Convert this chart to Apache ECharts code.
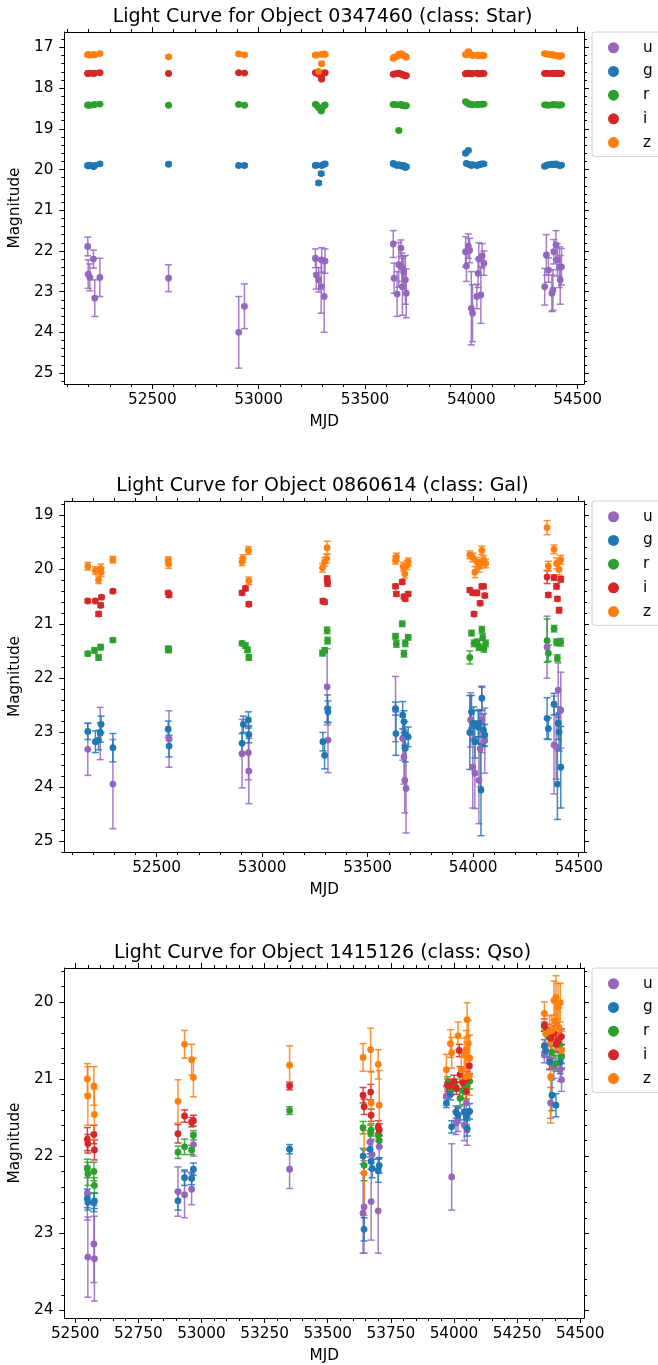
<!DOCTYPE html>
<html>
<head>
<meta charset="utf-8">
<script src="https://cdn.jsdelivr.net/npm/echarts@6/dist/echarts.min.js"></script>
<style>
html,body{margin:0;padding:0;background:#fff;}
#chart{width:658px;height:1365px;}
</style>
</head>
<body>
<div id="chart"></div>
<script>
// ---------- DATA: [MJD, magnitude, error] ----------
const bands = ['u', 'g', 'r', 'i', 'z'];
const titles = [
  'Light Curve for Object 0347460 (class: Star)',
  'Light Curve for Object 0860614 (class: Gal)',
  'Light Curve for Object 1415126 (class: Qso)'
];
const xLabelText = 'MJD';
const yLabelText = 'Magnitude';

// Panel 1 (Star)
const p1_u = [[52196,21.89,0.23],[52198,22.57,0.35],[52206,22.65,0.33],[52223,22.20,0.22],[52229,23.16,0.45],[52253,22.65,0.47],
  [52576,22.67,0.33],[52906,24.00,0.88],[52933,23.36,0.55],
  [53267,22.18,0.23],[53271,22.59,0.35],[53282,22.71,0.30],[53294,22.88,0.65],[53296,22.22,0.30],[53308,23.12,0.88],[53312,22.25,0.30],
  [53633,21.83,0.33],[53637,22.67,0.37],[53651,23.06,0.55],[53659,22.34,0.55],[53669,21.93,0.20],[53673,22.40,0.35],[53676,22.88,0.70],[53682,22.53,0.40],[53690,22.71,0.60],[53694,23.04,0.60],
  [53973,22.02,0.37],[53977,22.37,0.38],[53986,21.88,0.30],[53992,21.99,0.30],[54000,23.41,0.90],[54006,23.53,0.70],[54026,23.12,0.30],[54032,22.55,0.35],[54035,22.20,0.40],[54045,23.08,0.70],[54051,22.12,0.30],[54059,22.30,0.30],
  [54345,22.88,0.45],[54353,22.10,0.50],[54363,22.47,0.30],[54379,23.04,0.45],[54384,22.96,0.50],[54388,22.02,0.30],[54398,21.85,0.35],[54404,22.22,0.40],[54414,22.40,0.50],[54418,22.71,0.60],[54424,22.39,0.45]];
const p1_g = [[52196,19.90,0.03],[52198,19.91,0.03],[52206,19.89,0.03],[52223,19.93,0.03],[52229,19.90,0.03],[52253,19.86,0.03],
  [52576,19.87,0.03],[52906,19.90,0.03],[52933,19.90,0.03],
  [53267,19.90,0.03],[53271,19.89,0.03],[53282,20.33,0.04],[53294,20.10,0.04],[53296,19.90,0.03],[53308,19.87,0.03],[53312,19.86,0.03],
  [53633,19.85,0.03],[53637,19.87,0.03],[53651,19.90,0.03],[53659,19.88,0.03],[53669,19.90,0.03],[53673,19.91,0.03],[53676,19.92,0.03],[53682,19.90,0.03],[53690,19.95,0.03],[53694,19.93,0.03],
  [53973,19.60,0.03],[53977,19.85,0.03],[53986,19.53,0.03],[53992,19.88,0.03],[54000,19.90,0.03],[54006,19.88,0.03],[54026,19.90,0.03],[54032,19.89,0.03],[54035,19.88,0.03],[54045,19.87,0.03],[54051,19.86,0.03],[54059,19.86,0.03],
  [54345,19.92,0.03],[54353,19.90,0.03],[54363,19.88,0.03],[54379,19.87,0.03],[54384,19.88,0.03],[54388,19.87,0.03],[54398,19.86,0.03],[54404,19.88,0.03],[54414,19.90,0.03],[54418,19.90,0.03],[54424,19.89,0.03]];
const p1_r = [[52196,18.42,0.02],[52198,18.41,0.02],[52206,18.42,0.02],[52223,18.41,0.02],[52229,18.40,0.02],[52253,18.39,0.02],
  [52576,18.42,0.02],[52906,18.40,0.02],[52933,18.42,0.02],
  [53267,18.40,0.02],[53271,18.41,0.02],[53282,18.48,0.02],[53294,18.56,0.03],[53296,18.52,0.02],[53308,18.43,0.02],[53312,18.41,0.02],
  [53633,18.40,0.02],[53637,18.40,0.02],[53651,18.41,0.02],[53659,19.04,0.03],[53669,18.40,0.02],[53673,18.42,0.02],[53676,18.41,0.02],[53682,18.43,0.02],[53690,18.44,0.02],[53694,18.43,0.02],
  [53973,18.33,0.02],[53977,18.35,0.02],[53986,18.38,0.02],[53992,18.40,0.02],[54000,18.39,0.02],[54006,18.41,0.02],[54026,18.40,0.02],[54032,18.41,0.02],[54035,18.40,0.02],[54045,18.40,0.02],[54051,18.39,0.02],[54059,18.39,0.02],
  [54345,18.41,0.02],[54353,18.41,0.02],[54363,18.42,0.02],[54379,18.41,0.02],[54384,18.41,0.02],[54388,18.40,0.02],[54398,18.41,0.02],[54404,18.41,0.02],[54414,18.42,0.02],[54418,18.41,0.02],[54424,18.41,0.02]];
const p1_i = [[52196,17.64,0.02],[52198,17.64,0.02],[52206,17.63,0.02],[52223,17.64,0.02],[52229,17.63,0.02],[52253,17.62,0.02],
  [52576,17.64,0.02],[52906,17.62,0.02],[52933,17.63,0.02],
  [53267,17.62,0.02],[53271,17.63,0.02],[53282,17.66,0.02],[53294,17.70,0.02],[53296,17.78,0.02],[53308,17.63,0.02],[53312,17.62,0.02],
  [53633,17.66,0.02],[53637,17.65,0.02],[53651,17.64,0.02],[53659,17.63,0.02],[53669,17.65,0.02],[53673,17.66,0.02],[53676,17.67,0.02],[53682,17.68,0.02],[53690,17.70,0.02],[53694,17.69,0.02],
  [53973,17.65,0.02],[53977,17.64,0.02],[53986,17.63,0.02],[53992,17.64,0.02],[54000,17.65,0.02],[54006,17.64,0.02],[54026,17.63,0.02],[54032,17.64,0.02],[54035,17.65,0.02],[54045,17.64,0.02],[54051,17.63,0.02],[54059,17.64,0.02],
  [54345,17.64,0.02],[54353,17.63,0.02],[54363,17.64,0.02],[54379,17.64,0.02],[54384,17.63,0.02],[54388,17.64,0.02],[54398,17.64,0.02],[54404,17.63,0.02],[54414,17.64,0.02],[54418,17.64,0.02],[54424,17.64,0.02]];
const p1_z = [[52196,17.18,0.03],[52198,17.17,0.03],[52206,17.19,0.03],[52223,17.17,0.03],[52229,17.18,0.03],[52253,17.15,0.03],
  [52576,17.23,0.03],[52906,17.16,0.03],[52933,17.18,0.03],
  [53267,17.19,0.03],[53271,17.18,0.03],[53282,17.59,0.03],[53294,17.17,0.03],[53296,17.40,0.03],[53308,17.16,0.03],[53312,17.17,0.03],
  [53633,17.27,0.03],[53637,17.24,0.03],[53651,17.22,0.03],[53659,17.17,0.03],[53669,17.15,0.03],[53673,17.17,0.03],[53676,17.19,0.03],[53682,17.20,0.03],[53690,17.22,0.03],[53694,17.24,0.03],
  [53973,17.17,0.03],[53977,17.18,0.03],[53986,17.10,0.03],[53992,17.15,0.03],[54000,17.18,0.03],[54006,17.20,0.03],[54026,17.19,0.03],[54032,17.20,0.03],[54035,17.19,0.03],[54045,17.20,0.03],[54051,17.19,0.03],[54059,17.20,0.03],
  [54345,17.15,0.03],[54353,17.16,0.03],[54363,17.17,0.03],[54379,17.17,0.03],[54384,17.18,0.03],[54388,17.19,0.03],[54398,17.20,0.03],[54404,17.20,0.03],[54414,17.22,0.03],[54418,17.21,0.03],[54424,17.20,0.03]];

// Panel 2 (Gal)
const p2_u = [[52174,23.31,0.48],[52233,23.02,0.48],[52293,23.95,0.82],[52559,23.12,0.52],
  [52905,23.39,0.63],[52935,23.37,0.50],[52937,23.71,0.60],
  [53308,22.16,0.70],[53312,23.14,0.60],
  [53632,22.57,0.60],[53666,23.11,0.40],[53672,23.45,0.50],[53676,23.88,0.60],[53682,24.03,0.82],
  [53988,22.77,0.50],[53998,23.64,0.75],[54008,23.75,0.65],[54027,23.88,0.80],[54033,23.30,0.70],[54041,22.77,0.60],[54055,23.15,0.60],
  [54350,21.43,0.57],[54383,23.23,0.90],[54393,23.26,0.60],[54403,22.22,0.50],[54415,22.59,0.70]];
const p2_g = [[52174,22.98,0.15],[52210,23.17,0.20],[52225,23.14,0.18],[52233,23.00,0.18],[52237,22.85,0.15],[52293,23.28,0.26],
  [52555,22.94,0.15],[52559,23.25,0.20],
  [52905,23.20,0.18],[52911,22.85,0.15],[52935,22.77,0.15],[52937,23.04,0.15],
  [53288,23.17,0.17],[53296,23.42,0.25],[53310,22.56,0.25],[53312,22.62,0.20],
  [53632,22.56,0.12],[53634,23.02,0.40],[53666,22.68,0.25],[53672,22.80,0.20],[53676,23.02,0.22],[53678,23.29,0.25],[53692,23.08,0.18],
  [53984,23.00,0.68],[53992,22.62,0.30],[54002,22.83,0.30],[54008,23.17,0.30],[54024,22.90,0.30],[54027,22.83,0.25],[54037,24.06,0.84],[54041,22.37,0.22],[54049,22.96,0.30],[54055,23.05,0.20],
  [54350,22.74,0.38],[54356,22.93,0.20],[54383,22.48,0.20],[54399,23.95,0.65],[54403,22.83,0.30],[54407,22.99,0.35],[54415,23.64,0.75]];
const p2_r = [[52174,21.55,0.04],[52206,21.49,0.05],[52225,21.62,0.05],[52235,21.43,0.05],[52293,21.30,0.04],
  [52555,21.46,0.05],[52557,21.48,0.05],
  [52905,21.36,0.04],[52921,21.40,0.05],[52931,21.48,0.05],[52937,21.62,0.05],
  [53286,21.54,0.05],[53296,21.49,0.05],[53308,21.12,0.06],[53310,21.31,0.06],
  [53632,21.23,0.05],[53636,21.37,0.06],[53664,21.00,0.05],[53672,21.55,0.06],[53678,21.36,0.06],[53692,21.25,0.05],
  [53984,21.62,0.12],[53992,21.17,0.05],[54004,21.36,0.06],[54018,21.34,0.06],[54027,21.43,0.06],[54041,21.11,0.06],[54045,21.25,0.06],[54051,21.46,0.06],[54059,21.36,0.06],
  [54350,21.31,0.40],[54356,21.54,0.15],[54383,21.09,0.06],[54395,21.34,0.06],[54399,21.63,0.06],[54415,21.34,0.07]];
const p2_i = [[52174,20.58,0.03],[52210,20.58,0.03],[52225,20.82,0.04],[52235,20.66,0.04],[52239,20.51,0.03],[52293,20.40,0.03],
  [52555,20.43,0.03],[52559,20.47,0.04],
  [52905,20.43,0.04],[52921,20.35,0.04],[52937,20.64,0.04],
  [53288,20.58,0.04],[53296,20.60,0.04],[53308,20.17,0.05],[53310,20.26,0.05],
  [53632,20.31,0.04],[53636,20.45,0.04],[53664,20.23,0.04],[53672,20.50,0.04],[53678,20.54,0.04],[53692,20.45,0.04],
  [53984,20.38,0.04],[53998,20.43,0.04],[54004,20.82,0.04],[54018,20.43,0.05],[54033,20.62,0.04],[54041,20.31,0.04],[54049,20.31,0.04],[54055,20.48,0.04],
  [54350,20.14,0.12],[54356,20.47,0.04],[54383,20.15,0.05],[54395,20.31,0.05],[54399,20.54,0.04],[54407,20.75,0.05],[54415,20.18,0.05]];
const p2_z = [[52174,19.94,0.07],[52210,20.02,0.07],[52225,20.19,0.07],[52235,19.98,0.08],[52237,20.05,0.08],[52293,19.82,0.06],
  [52555,19.83,0.06],[52557,19.90,0.08],
  [52905,19.86,0.07],[52909,19.80,0.07],[52935,19.65,0.07],[52937,20.21,0.07],
  [53286,19.97,0.08],[53296,19.86,0.08],[53306,19.80,0.08],[53308,19.60,0.12],
  [53632,19.83,0.07],[53636,19.77,0.07],[53668,19.95,0.08],[53676,20.08,0.08],[53688,19.92,0.08],[53692,19.86,0.07],
  [53984,19.73,0.07],[53998,19.78,0.08],[54008,20.05,0.10],[54018,19.86,0.08],[54027,19.95,0.10],[54033,19.90,0.08],[54041,19.65,0.08],[54049,19.83,0.08],[54059,19.89,0.08],
  [54350,19.23,0.13],[54356,19.94,0.09],[54383,19.63,0.08],[54395,19.89,0.10],[54407,20.00,0.10],[54415,19.82,0.08]];

// Panel 3 (Qso)
const p3_u = [[52548,22.48,0.35],[52550,23.31,0.52],[52574,23.14,0.50],[52576,23.33,0.55],
  [52907,22.46,0.32],[52933,22.50,0.30],[52961,22.43,0.20],[52968,21.85,0.15],
  [53349,22.17,0.25],
  [53640,22.74,0.52],[53644,22.66,0.60],[53668,21.82,0.15],[53672,22.59,0.50],[53676,21.98,0.20],[53700,22.71,0.55],[53704,21.88,0.15],
  [53970,21.22,0.12],[53991,22.27,0.43],[54008,21.57,0.15],[54016,21.53,0.15],[54041,21.60,0.20],[54049,21.31,0.15],[54052,21.66,0.20],
  [54358,20.69,0.10],[54379,20.75,0.12],[54383,21.31,0.20],[54396,20.84,0.15],[54421,20.88,0.15],[54426,21.01,0.15]];
const p3_g = [[52548,22.55,0.12],[52550,22.60,0.10],[52574,22.60,0.12],[52576,22.58,0.10],
  [52907,22.58,0.12],[52933,22.28,0.10],[52961,22.29,0.08],[52968,22.17,0.08],
  [53349,21.91,0.06],
  [53640,22.00,0.10],[53644,22.95,0.15],[53668,21.91,0.10],[53672,22.07,0.10],[53676,22.16,0.12],[53700,22.19,0.15],[53704,22.12,0.10],
  [53970,21.31,0.06],[53986,21.20,0.07],[53991,21.62,0.08],[54008,21.43,0.08],[54016,21.47,0.10],[54041,21.43,0.10],[54049,21.49,0.10],[54052,21.64,0.10],[54062,21.42,0.10],
  [54358,20.57,0.08],[54363,20.63,0.08],[54379,20.78,0.10],[54388,21.21,0.20],[54404,21.34,0.15],[54421,20.78,0.15],[54426,20.71,0.15]];
const p3_r = [[52548,22.16,0.12],[52550,22.23,0.15],[52574,22.20,0.12],[52576,22.38,0.10],
  [52907,21.95,0.08],[52933,21.88,0.10],[52961,21.92,0.06],[52968,21.73,0.06],
  [53349,21.41,0.05],
  [53640,21.63,0.08],[53644,22.12,0.20],[53670,21.70,0.10],[53672,21.66,0.08],[53700,21.73,0.08],[53704,21.80,0.08],
  [53975,21.05,0.08],[53990,21.12,0.08],[54005,21.08,0.08],[54024,21.25,0.10],[54035,21.15,0.10],[54049,21.10,0.10],[54062,21.03,0.10],
  [54358,20.32,0.06],[54375,20.45,0.08],[54388,20.65,0.08],[54404,20.80,0.10],[54418,20.56,0.10],[54426,20.70,0.10]];
const p3_i = [[52548,21.78,0.15],[52550,21.84,0.12],[52574,21.72,0.12],[52576,21.92,0.13],
  [52907,21.71,0.12],[52933,21.48,0.08],[52961,21.56,0.06],[52968,21.54,0.07],
  [53349,21.09,0.05],
  [53640,21.21,0.10],[53644,21.36,0.10],[53670,21.17,0.10],[53672,21.47,0.08],[53700,21.62,0.08],[53704,21.66,0.08],
  [53975,21.08,0.08],[53983,21.09,0.08],[54000,21.03,0.08],[54010,21.12,0.08],[54021,20.63,0.08],[54024,20.94,0.10],[54035,21.05,0.10],[54049,21.16,0.10],[54052,21.00,0.10],[54061,20.83,0.10],
  [54358,20.30,0.08],[54371,20.37,0.08],[54383,20.47,0.10],[54396,20.41,0.10],[54404,20.55,0.10],[54412,20.50,0.10],[54426,20.45,0.10]];
const p3_z = [[52548,21.00,0.20],[52550,21.22,0.38],[52574,21.09,0.25],[52576,21.46,0.33],
  [52907,21.29,0.28],[52933,20.55,0.18],[52961,20.75,0.20],[52968,20.98,0.25],
  [53349,20.82,0.25],
  [53640,20.72,0.18],[53644,22.22,0.55],[53670,20.62,0.28],[53672,21.31,0.40],[53700,20.81,0.19],[53704,21.34,0.45],
  [53970,20.88,0.20],[53986,20.54,0.18],[53991,20.66,0.20],[54016,20.44,0.18],[54029,20.88,0.25],[54041,20.69,0.22],[54046,20.97,0.30],[54049,20.62,0.25],[54052,20.23,0.22],[54057,20.54,0.30],[54061,20.96,0.25],[54062,20.73,0.30],
  [54358,20.15,0.15],[54363,20.41,0.12],[54379,20.38,0.20],[54383,20.97,0.60],[54388,20.37,0.20],[54396,19.98,0.25],[54400,20.25,0.25],[54404,19.94,0.28],[54408,20.30,0.30],[54412,20.06,0.30],[54416,20.33,0.25],[54421,20.01,0.25],[54426,20.63,0.25]];

// Axis ticks
const p1_xticks = [52500, 53000, 53500, 54000, 54500];
const p2_xticks = [52500, 53000, 53500, 54000, 54500];
const p3_xticks = [52500, 52750, 53000, 53250, 53500, 53750, 54000, 54250, 54500];
const p1_yticks = [17, 18, 19, 20, 21, 22, 23, 24, 25];
const p2_yticks = [19, 20, 21, 22, 23, 24, 25];
const p3_yticks = [20, 21, 22, 23, 24];

// ---------- LAYOUT ----------
const colors = { u: '#9467bd', g: '#1f77b4', r: '#2ca02c', i: '#d62728', z: '#ff7f0e' };
const FONT = 'DejaVu Sans';
const FS = 15.3;
const panels = [
  { title: titles[0], data: { u: p1_u, g: p1_g, r: p1_r, i: p1_i, z: p1_z }, xr: [52086, 54530], yr: [16.62, 25.27],
    xt: p1_xticks, xMinorStep: 100, yt: p1_yticks, top: 32, height: 352 },
  { title: titles[1], data: { u: p2_u, g: p2_g, r: p2_r, i: p2_i, z: p2_z }, xr: [52063, 54525], yr: [18.74, 25.2],
    xt: p2_xticks, xMinorStep: 100, yt: p2_yticks, top: 501, height: 351 },
  { title: titles[2], data: { u: p3_u, g: p3_g, r: p3_r, i: p3_i, z: p3_z }, xr: [52457, 54515], yr: [19.56, 24.10],
    xt: p3_xticks, xMinorStep: 50, yt: p3_yticks, top: 968, height: 350 }
];
const GL = 61, GR = 584;

function minorTicks(range, step, majors) {
  const out = [];
  const start = Math.ceil(range[0] / step) * step;
  for (let v = start; v <= range[1] + 1e-9; v += step) {
    const vv = Math.round(v * 1000) / 1000;
    if (!majors.some(m => Math.abs(m - vv) < 1e-6)) out.push(vv);
  }
  return out;
}
const plain = v => String(Math.round(v * 1000) / 1000);

const grid = [], xAxis = [], yAxis = [], series = [], legend = [], title = [];
const tickLine = { color: '#000', width: 1 };

panels.forEach((p, k) => {
  grid.push({ left: GL, width: GR - GL, top: p.top, height: p.height, containLabel: false });
  title.push({ text: p.title, left: (GL + GR) / 2, textAlign: 'center', top: p.top - 24, padding: 0,
    textStyle: { fontFamily: FONT, fontSize: 19, fontWeight: 'normal', color: '#000' } });
  const xMinor = minorTicks(p.xr, p.xMinorStep, p.xt);
  const yMinor = minorTicks(p.yr, 0.2, p.yt);
  const xBase = { gridIndex: k, type: 'value', min: p.xr[0], max: p.xr[1], splitLine: { show: false } };
  const yBase = { gridIndex: k, type: 'value', min: p.yr[0], max: p.yr[1], inverse: true, splitLine: { show: false } };
  // x axes: bottom major (labels), bottom minor, top major, top minor
  xAxis.push(Object.assign({}, xBase, { position: 'bottom',
    axisLine: { show: true, onZero: false, lineStyle: tickLine },
    axisTick: { show: true, customValues: p.xt, length: 5, lineStyle: tickLine },
    axisLabel: { show: true, customValues: p.xt, margin: 9, formatter: plain, fontFamily: FONT, fontSize: FS, color: '#000' },
    name: xLabelText, nameLocation: 'middle', nameGap: 31,
    nameTextStyle: { fontFamily: FONT, fontSize: FS, color: '#000' } }));
  xAxis.push(Object.assign({}, xBase, { position: 'bottom', axisLine: { show: false, onZero: false },
    axisTick: { show: true, customValues: xMinor, length: 3, lineStyle: tickLine }, axisLabel: { show: false } }));
  xAxis.push(Object.assign({}, xBase, { position: 'top',
    axisLine: { show: true, onZero: false, lineStyle: tickLine },
    axisTick: { show: true, customValues: p.xt, length: 5, lineStyle: tickLine }, axisLabel: { show: false } }));
  xAxis.push(Object.assign({}, xBase, { position: 'top', axisLine: { show: false, onZero: false },
    axisTick: { show: true, customValues: xMinor, length: 3, lineStyle: tickLine }, axisLabel: { show: false } }));
  // y axes
  yAxis.push(Object.assign({}, yBase, { position: 'left',
    axisLine: { show: true, onZero: false, lineStyle: tickLine },
    axisTick: { show: true, customValues: p.yt, length: 5, lineStyle: tickLine },
    axisLabel: { show: true, customValues: p.yt, margin: 11, formatter: plain, fontFamily: FONT, fontSize: FS, color: '#000' },
    name: yLabelText, nameLocation: 'middle', nameGap: 39, nameRotate: 90,
    nameTextStyle: { fontFamily: FONT, fontSize: FS, color: '#000' } }));
  yAxis.push(Object.assign({}, yBase, { position: 'left', axisLine: { show: false, onZero: false },
    axisTick: { show: true, customValues: yMinor, length: 3, lineStyle: tickLine }, axisLabel: { show: false } }));
  yAxis.push(Object.assign({}, yBase, { position: 'right',
    axisLine: { show: true, onZero: false, lineStyle: tickLine },
    axisTick: { show: true, customValues: p.yt, length: 5, lineStyle: tickLine }, axisLabel: { show: false } }));
  yAxis.push(Object.assign({}, yBase, { position: 'right', axisLine: { show: false, onZero: false },
    axisTick: { show: true, customValues: yMinor, length: 3, lineStyle: tickLine }, axisLabel: { show: false } }));

  const xi = k * 4, yi = k * 4;
  bands.forEach(b => {
    const col = colors[b];
    series.push({
      type: 'custom', name: b + ' err', xAxisIndex: xi, yAxisIndex: yi, silent: true,
      data: p.data[b], encode: { x: 0, y: 1 },
      renderItem: function (params, api) {
        const x = api.value(0), y = api.value(1), e = api.value(2);
        const a = api.coord([x, y - e]), c = api.coord([x, y + e]);
        const cw = 3.5;
        const st = { stroke: col, lineWidth: 1.5, opacity: 0.85 };
        return { type: 'group', children: [
          { type: 'line', shape: { x1: a[0], y1: a[1], x2: c[0], y2: c[1] }, style: st },
          { type: 'line', shape: { x1: a[0] - cw, y1: a[1], x2: a[0] + cw, y2: a[1] }, style: st },
          { type: 'line', shape: { x1: c[0] - cw, y1: c[1], x2: c[0] + cw, y2: c[1] }, style: st }
        ] };
      }
    });
    series.push({
      type: 'scatter', name: b, xAxisIndex: xi, yAxisIndex: yi, silent: true,
      data: p.data[b].map(d => [d[0], d[1]]),
      symbol: 'circle', symbolSize: 6.8,
      itemStyle: { color: col, opacity: 1 }
    });
  });

  legend.push({
    orient: 'vertical', left: 592, top: p.top,
    data: bands.map(b => ({ name: b, icon: 'circle', itemStyle: { color: colors[b] } })),
    itemWidth: 11, itemHeight: 11, itemGap: 8.2,
    padding: [8, 24, 6, 16],
    borderColor: '#d0d0d0', borderWidth: 1, borderRadius: 3, backgroundColor: '#fff',
    selectedMode: false,
    textStyle: { fontFamily: FONT, fontSize: FS, color: '#000', lineHeight: 15.5, padding: [0, 0, 0, 19] }
  });
});

const chart = echarts.init(document.getElementById('chart'), null, { renderer: 'canvas' });
chart.setOption({
  backgroundColor: '#fff',
  animation: false,
  title: title,
  legend: legend,
  grid: grid,
  xAxis: xAxis,
  yAxis: yAxis,
  series: series
});
</script>
</body>
</html>
